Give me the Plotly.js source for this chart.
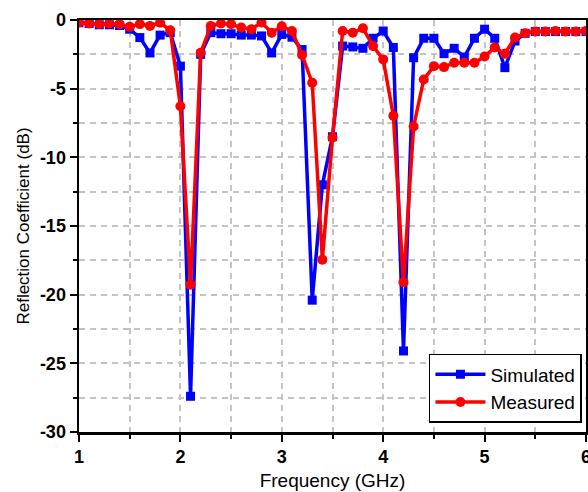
<!DOCTYPE html>
<html>
<head>
<meta charset="utf-8">
<script src="https://cdn.plot.ly/plotly-3.0.1.min.js"></script>
<style>html,body{margin:0;padding:0;background:#fff;}#chart{width:588px;height:492px;}</style>
</head>
<body>
<div id="chart"></div>
<script>
const freq = [1.0,1.1,1.2,1.3,1.4,1.5,1.6,1.7,1.8,1.9,2.0,2.1,2.2,2.3,2.4,2.5,2.6,2.7,2.8,2.9,3.0,3.1,3.2,3.3,3.4,3.5,3.6,3.7,3.8,3.9,4.0,4.1,4.2,4.3,4.4,4.5,4.6,4.7,4.8,4.9,5.0,5.1,5.2,5.3,5.4,5.5,5.6,5.7,5.8,5.9,6.0];
const simulated = [-0.2,-0.25,-0.35,-0.35,-0.4,-0.67,-1.28,-2.4,-1.1,-0.92,-3.36,-27.4,-2.5,-0.92,-1.0,-1.0,-1.1,-1.1,-1.16,-2.4,-1.05,-1.25,-2.15,-20.4,-12.0,-8.5,-1.9,-1.96,-2.06,-1.33,-0.8,-2.0,-24.1,-2.75,-1.33,-1.33,-2.45,-2.06,-2.7,-1.33,-0.67,-1.33,-3.47,-1.53,-0.97,-0.84,-0.84,-0.84,-0.84,-0.84,-0.84];
const measured = [-0.18,-0.26,-0.3,-0.26,-0.3,-0.5,-0.3,-0.43,-0.2,-0.75,-6.28,-19.28,-2.38,-0.43,-0.26,-0.3,-0.55,-0.67,-0.18,-0.92,-0.45,-0.8,-2.55,-4.57,-17.45,-8.55,-0.8,-0.92,-0.6,-1.9,-2.87,-6.97,-19.1,-7.75,-4.33,-3.36,-3.43,-3.11,-3.11,-3.11,-2.66,-2.0,-2.45,-1.28,-0.97,-0.84,-0.84,-0.8,-0.84,-0.84,-0.8];
const seriesNames = ["Simulated", "Measured"];
const xTickVals = [1,2,3,4,5,6];
const yTickVals = [0,-5,-10,-15,-20,-25,-30];

const traces = [
  {x: freq, y: simulated, name: seriesNames[0], type: 'scatter', mode: 'lines+markers',
   line: {color: '#0000ff', width: 3.5}, marker: {symbol: 'square', size: 9, color: '#0000ff'}},
  {x: freq, y: measured, name: seriesNames[1], type: 'scatter', mode: 'lines+markers',
   line: {color: '#ff0000', width: 3.5}, marker: {symbol: 'circle', size: 10, color: '#ff0000'}}
];

const fam = 'Liberation Sans, Arial, sans-serif';
const tickFont = {family: fam, size: 18, color: '#000', weight: 'bold'};

const layout = {
  width: 588, height: 492,
  margin: {l: 79, r: 2, t: 20, b: 60},
  paper_bgcolor: '#fff', plot_bgcolor: '#fff',
  showlegend: true,
  legend: {x: 0.992, y: 0.022, xanchor: 'right', yanchor: 'bottom',
           bordercolor: '#000', borderwidth: 1.5, bgcolor: '#fff',
           font: {family: fam, size: 19, color: '#000'},
           itemwidth: 50, tracegroupgap: 0},
  xaxis: {range: [1, 6], tickvals: xTickVals, ticktext: xTickVals.map(String),
          showgrid: false, zeroline: false, showline: true, linecolor: '#000', linewidth: 2.5, mirror: true,
          ticks: 'outside', ticklen: 7, tickwidth: 2, tickcolor: '#000', tickfont: tickFont,
          ticklabeloverflow: 'allow', automargin: false,
          minor: {dtick: 0.5, tick0: 1, ticks: 'outside', ticklen: 4, tickwidth: 2, tickcolor: '#000',
                  showgrid: true, gridcolor: '#c4c4c4', griddash: '6px,5px', gridwidth: 2},
          title: {text: 'Frequency (GHz)', font: {family: fam, size: 19, color: '#000'}, standoff: 8}},
  yaxis: {range: [-30, 0], tickvals: yTickVals, ticktext: yTickVals.map(String),
          showgrid: false, zeroline: false, showline: true, linecolor: '#000', linewidth: 2.5, mirror: true,
          ticks: 'outside', ticklen: 7, tickwidth: 2, tickcolor: '#000', tickfont: tickFont,
          automargin: false,
          minor: {dtick: 2.5, tick0: 0, ticks: 'outside', ticklen: 4, tickwidth: 2, tickcolor: '#000',
                  showgrid: true, gridcolor: '#c4c4c4', griddash: '6px,5px', gridwidth: 2},
          title: {text: 'Reflection Coefficient (dB)', font: {family: fam, size: 17, color: '#000'}, standoff: 6}}
};

Plotly.newPlot('chart', traces, layout, {displayModeBar: false, staticPlot: true});
</script>
</body>
</html>
